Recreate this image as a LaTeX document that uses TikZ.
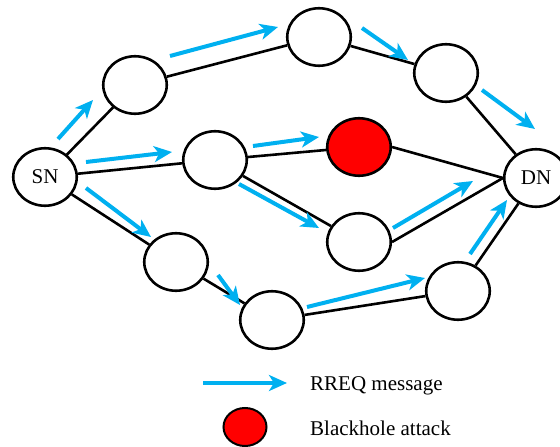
\documentclass[tikz,border=0pt]{standalone}
\usepackage{fontspec}
\setmainfont{Liberation Serif}
\usetikzlibrary{shapes.geometric,arrows.meta}
\definecolor{rreqblue}{RGB}{0,176,240}
\definecolor{holered}{RGB}{255,0,0}
\tikzset{
  hop/.style={ellipse,draw=black,line width=2.6pt,fill=white,
    minimum width=63.5pt,minimum height=57.5pt,inner sep=0pt,
    font=\fontsize{21}{21}\selectfont},
  blackhole/.style={hop,fill=holered},
  link/.style={draw=black,line width=2.6pt},
  rreq/.style={draw=rreqblue,line width=4pt,
    -{Stealth[length=18pt,width=16pt,inset=5pt,fill=rreqblue]}},
  legendtext/.style={anchor=base west,inner sep=0pt,
    font=\fontsize{21}{21}\selectfont}
}
\begin{document}
\begin{tikzpicture}[x=1pt,y=-1pt]
\useasboundingbox (0,0) rectangle (560,447);

% nodes of the network
\node[hop] (SN) at (45,177) {SN};
\node[hop] (A) at (135,85) {};
\node[hop] (B) at (319,37) {};
\node[hop] (C) at (446,73) {};
\node[hop] (D) at (215,160) {};
\node[blackhole] (E) at (359,147) {};
\node[hop] (F) at (359,242) {};
\node[hop] (G) at (176,262) {};
\node[hop] (H) at (272,320) {};
\node[hop] (I) at (458,291) {};
\node[hop] (DN) at (536,178) {DN};

% network links
\draw[link] (SN) -- (A);
\draw[link] (A) -- (B);
\draw[link] (B) -- (C);
\draw[link] (C) -- (DN);
\draw[link] (SN) -- (D);
\draw[link] (D) -- (E);
\draw[link] (E.east) -- (DN.west);
\draw[link] (D) -- (F);
\draw[link] (F.east) -- (DN.west);
\draw[link] (SN) -- (G);
\draw[link] (G) -- (H);
\draw[link] (H) -- (I);
\draw[link] (I) -- (DN);

% route request arrows beside the links
\coordinate (r1s) at (58,139);  \coordinate (r1e) at (93,100);
\coordinate (r2s) at (170,56);  \coordinate (r2e) at (278,27);
\coordinate (r3s) at (86,162);  \coordinate (r3e) at (172,152);
\coordinate (r4s) at (86,188);  \coordinate (r4e) at (151,237);
\coordinate (r5s) at (253,146); \coordinate (r5e) at (319,137);
\coordinate (r6s) at (239,184); \coordinate (r6e) at (319,228);
\coordinate (r7s) at (362,28);  \coordinate (r7e) at (408,60);
\coordinate (r8s) at (482,90);  \coordinate (r8e) at (535,129);
\coordinate (r9s) at (393,228); \coordinate (r9e) at (473,181);
\coordinate (r10s) at (218,275); \coordinate (r10e) at (240,305);
\coordinate (r11s) at (307,307); \coordinate (r11e) at (425,278);
\coordinate (r12s) at (470,254); \coordinate (r12e) at (507,200);
\foreach \k in {1,...,12} {\draw[rreq] (r\k s) -- (r\k e);}

% legend
\coordinate (legA) at (203,383);
\coordinate (legB) at (287,383);
\draw[rreq] (legA) -- (legB);
\node[legendtext] (legT1) at (310,390) {RREQ message};
\node[ellipse,draw=black,line width=2pt,fill=holered,minimum width=43pt,
  minimum height=38pt,inner sep=0pt] (legE) at (245,427) {};
\node[legendtext] (legT2) at (310,435) {Blackhole attack};
\end{tikzpicture}
\end{document}
